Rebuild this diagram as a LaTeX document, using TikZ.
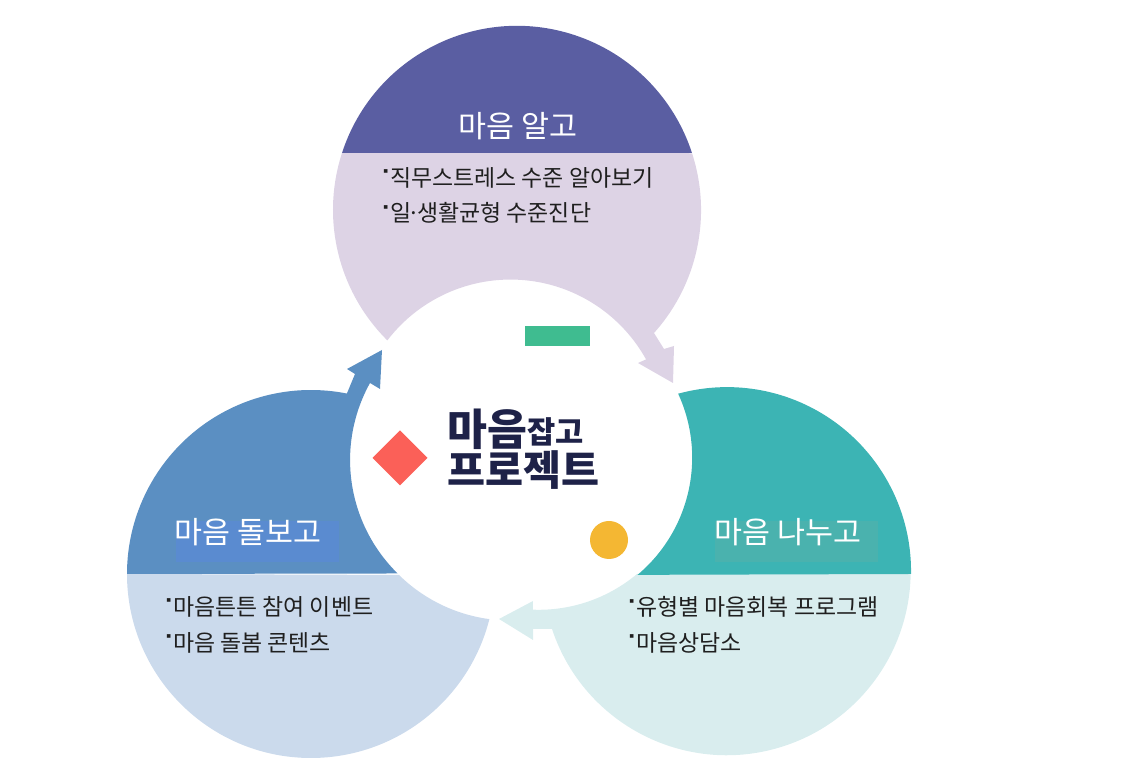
\documentclass[tikz,border=0pt]{standalone}
\usepackage{fontspec}
\setmainfont{Noto Sans CJK KR}
\newfontfamily\titlefont{Noto Sans CJK KR Black}
\definecolor{topdark}{HTML}{5A5EA2}
\definecolor{toplight}{HTML}{DDD3E5}
\definecolor{leftdark}{HTML}{5B8FC2}
\definecolor{leftlight}{HTML}{CBDAEC}
\definecolor{rightdark}{HTML}{3CB4B4}
\definecolor{rightlight}{HTML}{D9EDEE}
\definecolor{leftband}{HTML}{5A8BD0}
\definecolor{rightband}{HTML}{4AB2AE}
\definecolor{ink}{HTML}{1E2248}
\definecolor{jade}{HTML}{3FBC90}
\definecolor{coral}{HTML}{FB6058}
\definecolor{amber}{HTML}{F4B733}
\newcommand{\itemdot}{\makebox[.3em][l]{\kern-.18em\raisebox{.42em}{\fontsize{10}{10}\selectfont ▪}}}
\begin{document}
\begin{tikzpicture}[x=.75pt,y=.75pt,
  headtext/.style={text=white,font=\fontsize{22.8}{26}\selectfont,inner sep=0pt},
  bodytext/.style={text=black!88,font=\fontsize{17.2}{20}\selectfont,anchor=west,inner sep=0pt},
  titletext/.style={text=ink,font=\fontsize{31}{33}\titlefont\selectfont,inner sep=0pt}]
\useasboundingbox (0,0) rectangle (1139,784);
% top circle
\fill[toplight] (342,631) arc[start angle=162,end angle=225.2,radius=184] arc[start angle=142.6,end angle=29,radius=155] -- (638,421) -- (673,401) -- (674,438) -- (664,435) -- (654,451) arc[start angle=-41.9,end angle=18,radius=184] -- cycle;
\fill[topdark] (342,631) arc[start angle=162,end angle=18,radius=184] -- cycle;
% left circle
\fill[leftlight] (127,210) arc[start angle=180,end angle=345.8,radius=184] arc[start angle=262.4,end angle=225.5,radius=159] -- cycle;
\fill[leftdark] (127,210) arc[start angle=180,end angle=78.75,radius=184] -- (355,410) -- (347,415) -- (382,434) -- (380,395) -- (370,401) arc[start angle=151,end angle=225.5,radius=159] -- cycle;
% right circle
\fill[rightlight] (637,210) arc[start angle=-50,end angle=-92.2,radius=153] -- (533,183) -- (499,165) -- (533,144) -- (533,155) -- (552,155) arc[start angle=198.3,end angle=359.1,radius=184] -- cycle;
\fill[rightdark] (911,210) arc[start angle=-0.9,end angle=105.4,radius=184] arc[start angle=24.7,end angle=-50,radius=153] -- cycle;
% bands behind the headings
\fill[leftband] (176,222) rectangle (339,263);
\fill[rightband] (715,222) rectangle (878,263);
% marks in the middle
\fill[jade] (525,438) rectangle (590,458);
\fill[coral] (372.5,326) -- (400,353.5) -- (427.5,326) -- (400,298.5) -- cycle;
\fill[amber] (609,244) circle (19);
% headings
\node[headtext] (headTop) at (518,658) {마음 알고};
\node[headtext] (headLeft) at (248,252) {마음 돌보고};
\node[headtext] (headRight) at (788,252) {마음 나누고};
% lists
\node[bodytext] (topOne) at (383,606) {\itemdot 직무스트레스 수준 알아보기};
\node[bodytext] (topTwo) at (383,571) {\itemdot 일\kern-.15em·\kern-.15em 생활균형 수준진단};
\node[bodytext] (leftOne) at (166,177) {\itemdot 마음튼튼 참여 이벤트};
\node[bodytext] (leftTwo) at (166,141) {\itemdot 마음 돌봄 콘텐츠};
\node[bodytext] (rightOne) at (629,177) {\itemdot 유형별 마음회복 프로그램};
\node[bodytext] (rightTwo) at (629,141) {\itemdot 마음상담소};
% title
\node[titletext,anchor=west,font=\fontsize{32.5}{34}\titlefont\selectfont] (titleBig) at (447,355) {마음};
\node[titletext,anchor=west,font=\fontsize{23}{26}\titlefont\selectfont] (titleSmall) at (527,352) {잡고};
\node[titletext,anchor=west] (titleLow) at (447,314) {프로젝트};
\end{tikzpicture}
\end{document}
